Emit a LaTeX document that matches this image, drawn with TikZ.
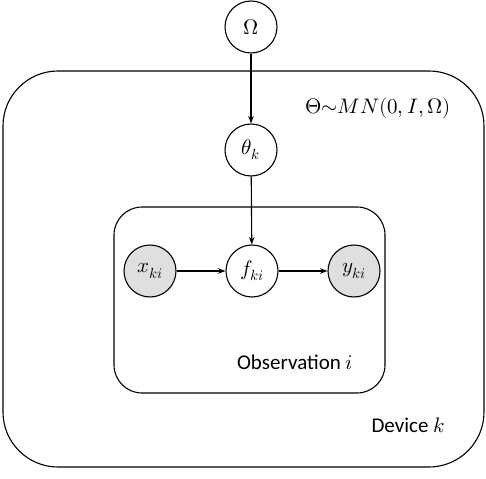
\documentclass[tikz,border=0pt]{standalone}
\usepackage{fontspec}
\usepackage{unicode-math}
\setmainfont{Carlito}
\setmathfont{Latin Modern Math}
\usetikzlibrary{arrows.meta}

\begin{document}
\begin{tikzpicture}[x=1pt,y=-1pt,line width=1.1pt,font=\fontsize{21}{25}\selectfont,
  var/.style={draw, circle, minimum size=52pt, inner sep=0pt},
  obs/.style={var, fill=gray!25},
  edge/.style={-{Stealth[length=2.6mm]}}]
\useasboundingbox (0,0) rectangle (486,478);

% plates
\draw[rounded corners=55pt] (3,71) rectangle (484,467);
\draw[rounded corners=28pt] (114,207) rectangle (385,393);

\node[var] (Om) at (251,27) {$\Omega$};
\node[var] (th) at (251,150) {$\theta_k$};
\node[obs] (xk) at (150,271) {$x_{ki}$};
\node[var] (fk) at (252,271) {$f_{ki}$};
\node[obs] (yk) at (354,271) {$y_{ki}$};

\draw[edge] (Om) -- (th);
\draw[edge] (th) -- (fk);
\draw[edge] (xk) -- (fk);
\draw[edge] (fk) -- (yk);

\node (prior) at (378,108) {$\Theta{\sim}MN(0,I,\Omega)$};
\node (obslabel) at (295,362) {Observation $i$};
\node (devlabel) at (408,425) {Device $k$};

\end{tikzpicture}
\end{document}
